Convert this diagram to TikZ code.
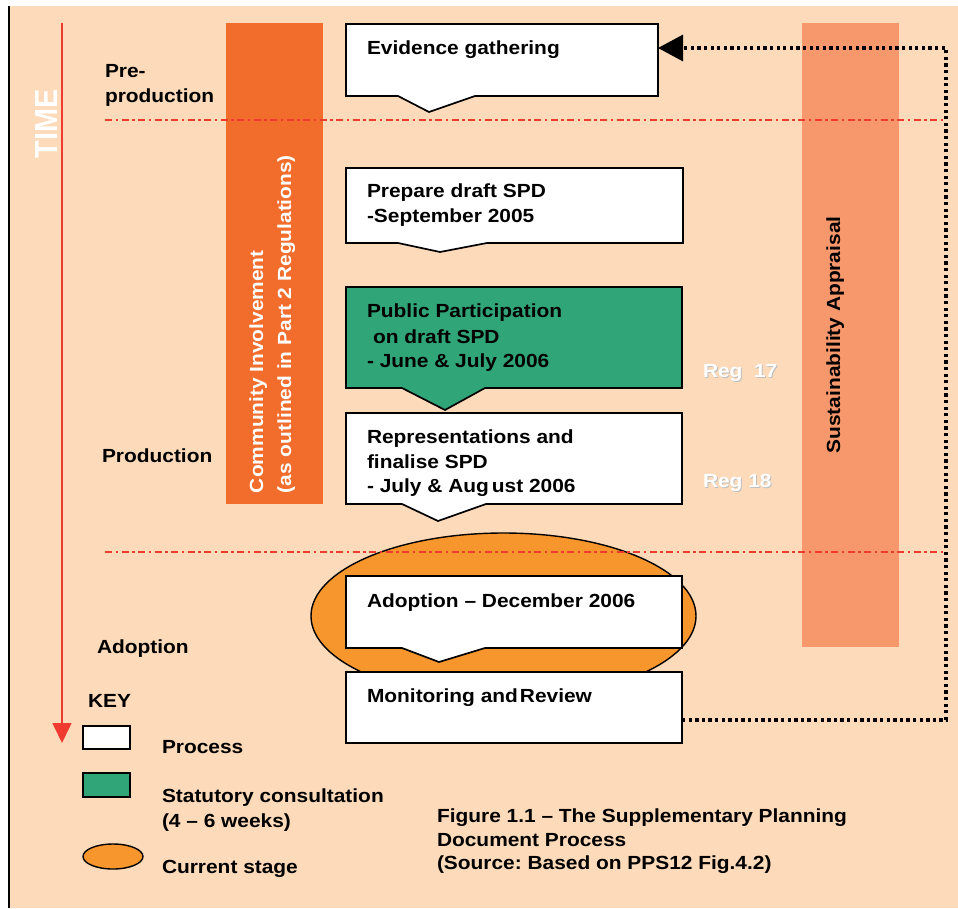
\documentclass[tikz,border=0pt]{standalone}
\usepackage{fontspec}
\setmainfont{Liberation Sans}[FakeStretch=1.1]
\usetikzlibrary{arrows.meta,shapes.geometric}
\frenchspacing

\definecolor{peach}{HTML}{FDDAB9}
\definecolor{involve}{HTML}{F26C2C}
\definecolor{sustain}{HTML}{F7986C}
\definecolor{statgreen}{HTML}{30A578}
\definecolor{current}{HTML}{F7962D}
\definecolor{timered}{HTML}{EE3A2F}

\begin{document}
\begin{tikzpicture}[x=1pt,y=-1pt,
  txt/.style={font=\bfseries\fontsize{19}{22}\selectfont, anchor=base west, inner sep=0pt, outer sep=0pt},
  stage/.style={rectangle, inner sep=0pt, outer sep=0pt},
  stageline/.style={draw=black, line width=1.7pt, line join=miter},
  phase/.style={draw=timered, line width=2pt, dash pattern=on 7pt off 3.5pt on 2.5pt off 3.5pt},
  regtxt/.style={txt, text=white},
  regshadow/.style={txt, text=black!25},
  feedback/.style={line width=3.3pt, dash pattern=on 3.3pt off 3.3pt, -{Triangle[length=25pt,width=26pt]}},
]
\useasboundingbox (0,0) rectangle (958,908);
\fill[white] (0,0) rectangle (958,908);
\fill[peach] (10,6) rectangle (958,908);
\draw[line width=2pt] (9,6) -- (9,908);

% coloured columns
\fill[involve] (226,23) rectangle (323,504);
\fill[sustain] (802,23) rectangle (899,647);

% time axis
\coordinate (t0) at (62,23);
\coordinate (t1) at (62,743);
\draw[timered, line width=1.5pt, -{Triangle[length=20pt,width=19pt]}] (t0) -- (t1);
\node[rotate=90, text=white, font=\bfseries\fontsize{32}{32}\selectfont, inner sep=0pt] (time) at (46,124) {\scalebox{0.82}[1]{TIME}};

% current stage highlight
\node[ellipse, draw=black, line width=1.4pt, fill=current, minimum width=385pt, minimum height=166pt, inner sep=0pt] (cur) at (503.5,616) {};

% phase separators
\coordinate (s1a) at (105,120); \coordinate (s1b) at (945,120);
\coordinate (s2a) at (105,552); \coordinate (s2b) at (945,552);
\draw[phase] (s1a) -- (s1b);
\draw[phase] (s2a) -- (s2b);

% column captions
\node[txt, text=white, rotate=90] (ci1) at (263,493) {Community Involvement};
\node[txt, text=white, rotate=90] (ci2) at (291,493) {(as outlined in Part 2 Regulations)};
\node[txt, anchor=base, rotate=90] (sa) at (840,335) {Sustainability Appraisal};

% phase names
\node[txt] (pre1) at (105,77) {Pre-};
\node[txt] (pre2) at (105,102) {production};
\node[txt] (prod) at (102,462) {Production};
\node[txt] (adop) at (97,653) {Adoption};

% process stages
\node[stage, minimum width=312pt, minimum height=72pt] (ev) at (502,60) {};
\draw[stageline, fill=white] (ev.north west) -- (ev.north east) -- (ev.south east)
  -- (475,96) -- (429,112) -- (398,96) -- (ev.south west) -- cycle;
\node[txt] (evt) at (367,54) {Evidence gathering};

\node[stage, minimum width=337pt, minimum height=75pt] (prep) at (514.5,205.5) {};
\draw[stageline, fill=white] (prep.north west) -- (prep.north east) -- (prep.south east)
  -- (487,243) -- (440,252) -- (398,243) -- (prep.south west) -- cycle;
\node[txt] (prept1) at (367,197) {Prepare draft SPD};
\node[txt] (prept2) at (367,222) {-September 2005};

\node[stage, minimum width=336pt, minimum height=101pt] (pub) at (514,337.5) {};
\draw[stageline, fill=statgreen] (pub.north west) -- (pub.north east) -- (pub.south east)
  -- (485,388) -- (445,410) -- (402,388) -- (pub.south west) -- cycle;
\node[txt] (pubt1) at (367,317) {Public Participation};
\node[txt] (pubt2) at (373,343) {on draft SPD};
\node[txt] (pubt3) at (367,367) {- June \& July 2006};

\node[stage, minimum width=336pt, minimum height=91pt] (rep) at (514,458.5) {};
\draw[stageline, fill=white] (rep.north west) -- (rep.north east) -- (rep.south east)
  -- (486,504) -- (438,521) -- (402,504) -- (rep.south west) -- cycle;
\node[txt] (rept1) at (367,443) {Representations and};
\node[txt] (rept2) at (367,468) {finalise SPD};
\node[txt] (rept3) at (367,492) {- July \& Aug\kern3pt ust 2006};

\node[stage, minimum width=336pt, minimum height=72pt] (ado) at (514,612) {};
\draw[stageline, fill=white] (ado.north west) -- (ado.north east) -- (ado.south east)
  -- (485,648) -- (439,662) -- (402,648) -- (ado.south west) -- cycle;
\node[txt] (adot) at (367,607) {Adoption -- December 2006};

\node[stage, minimum width=336pt, minimum height=71pt] (mon) at (514,707.5) {};
\draw[stageline, fill=white] (mon.north west) rectangle (mon.south east);
\node[txt] (mont) at (367,702) {Monitoring and\kern2pt Review};

% regulation marks
\node[regshadow] (r17s) at (704,378) {Reg\ \ 17};
\node[regtxt] (r17) at (703,377) {Reg\ \ 17};
\node[regshadow] (r18s) at (704,488) {Reg 18};
\node[regtxt] (r18) at (703,487) {Reg 18};

% review feeds back into evidence gathering
\coordinate (loop) at (946,48);
\draw[feedback] ([yshift=-12.5pt]mon.east) -| (loop) -- ([yshift=12pt]ev.east);

% key
\node[txt] (key) at (88,707) {KEY};
\node[rectangle, draw=black, line width=1.4pt, fill=white, minimum width=47pt, minimum height=23pt, inner sep=0pt] (kproc) at (106.5,737.5) {};
\node[rectangle, draw=black, line width=1.4pt, fill=statgreen, minimum width=47pt, minimum height=24pt, inner sep=0pt] (kstat) at (106.5,785) {};
\node[ellipse, draw=black, line width=1.4pt, fill=current, minimum width=60pt, minimum height=25pt, inner sep=0pt] (kcur) at (113,856.5) {};
\node[txt] (kproct) at (162,753) {Process};
\node[txt] (kstat1) at (162,802) {Statutory consultation};
\node[txt] (kstat2) at (162,827) {(4 -- 6 weeks)};
\node[txt] (kcurt) at (162,873) {Current stage};

% figure caption
\node[txt] (cap1) at (437,822) {Figure 1.1 -- The Supplementary Planning};
\node[txt] (cap2) at (437,846) {Document Process};
\node[txt] (cap3) at (437,869) {(Source: Based on PPS12 Fig.4.2)};
\end{tikzpicture}
\end{document}
